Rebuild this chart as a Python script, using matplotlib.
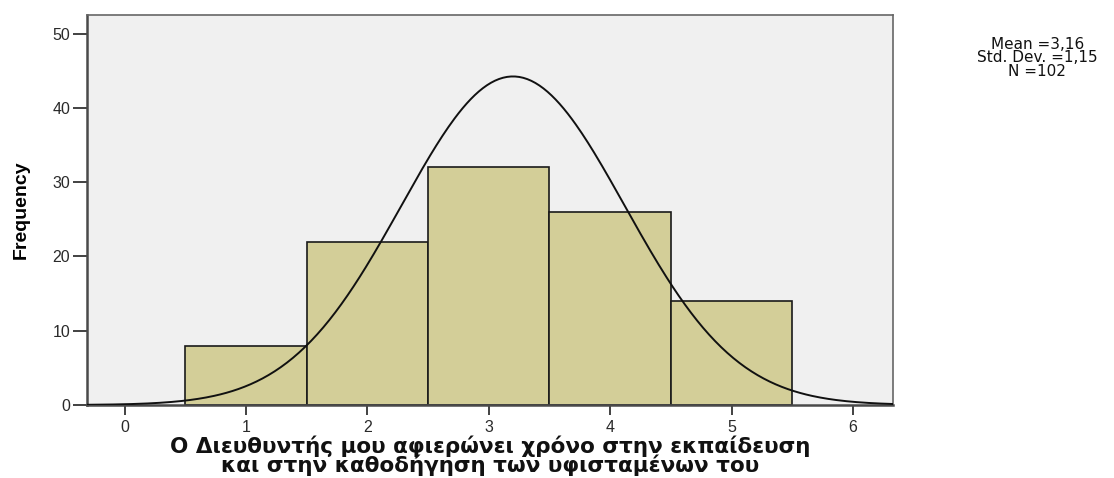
import numpy as np
import matplotlib

matplotlib.use("Agg")
import matplotlib.pyplot as plt

# response categories and their counts
categories = [1, 2, 3, 4, 5]
counts = [8, 22, 32, 26, 14]

# summary shown beside the plot
stats_mean = "3,16"
stats_sd = "1,15"
stats_n = 102

# fitted normal curve overlay (frequency scale)
curve_mean = 3.2
curve_sd = 0.92

xticks = [0, 1, 2, 3, 4, 5, 6]
yticks = [0, 10, 20, 30, 40, 50]

xlabel = ("Ο Διευθυντής μου αφιερώνει χρόνο στην εκπαίδευση\n"
          "και στην καθοδήγηση των υφισταμένων του")

BAR_FILL = "#D3CE98"
PLOT_BG = "#F0F0F0"
FRAME = "#4A4A4A"

plt.rcParams["font.family"] = ["Liberation Sans", "DejaVu Sans"]

fig = plt.figure(figsize=(11.14, 4.78), dpi=100)
ax = fig.add_axes([0.078, 0.1527, 0.7236, 0.8159])
ax.set_facecolor(PLOT_BG)

ax.bar(categories, counts, width=1.0, color=BAR_FILL,
       edgecolor="#1A1A1A", linewidth=1.2, zorder=2)

xs = np.linspace(-0.31, 6.33, 400)
ys = stats_n * np.exp(-0.5 * ((xs - curve_mean) / curve_sd) ** 2) / (curve_sd * np.sqrt(2 * np.pi))
ax.plot(xs, ys, color="#111111", linewidth=1.4, zorder=3)

ax.set_xlim(-0.31, 6.33)
ax.set_ylim(0, 52.5)
ax.set_xticks(xticks)
ax.set_yticks(yticks)
ax.tick_params(axis="both", direction="out", color="#333333", width=1.3,
               labelsize=11.5, labelcolor="#2A2A2A")
ax.tick_params(axis="y", length=10, pad=2)
ax.tick_params(axis="x", length=7, pad=4)

for side in ("left", "bottom"):
    ax.spines[side].set_color(FRAME)
    ax.spines[side].set_linewidth(1.8)
for side in ("top", "right"):
    ax.spines[side].set_color("#666666")
    ax.spines[side].set_linewidth(1.2)

ax.set_ylabel("Frequency", family=["Liberation Sans Narrow", "Liberation Sans", "DejaVu Sans"],
              fontsize=14, fontweight="bold", labelpad=16)
ax.set_xlabel(xlabel, family=["DejaVu Sans"], fontsize=15.5, fontweight="bold",
              labelpad=0, linespacing=0.86, color="#111111")

fig.text(0.931, 0.879,
         f"Mean ={stats_mean}\nStd. Dev. ={stats_sd}\nN ={stats_n}",
         family=["DejaVu Sans"], ha="center", va="center", fontsize=11,
         linespacing=0.88, color="#111111")

fig.savefig("out.png", dpi=100)
